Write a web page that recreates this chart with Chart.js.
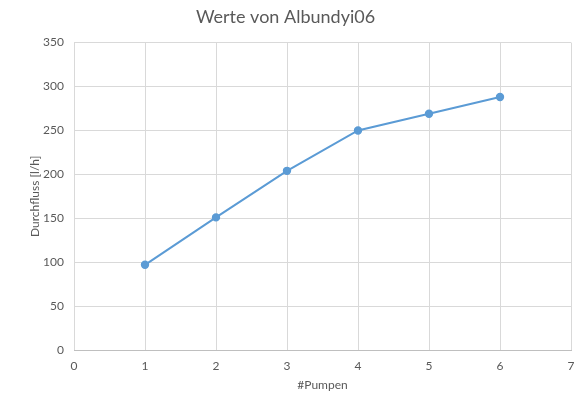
<!DOCTYPE html>
<html lang="de">
<head>
  <meta charset="UTF-8" />
  <title>Werte von Albundyi06</title>
  <script src="https://cdn.jsdelivr.net/npm/chart.js"></script>
  <style>
    body { margin: 0; background: #fff; }
    canvas { display: block; }
  </style>
</head>
<body>
  <canvas id="grafico" width="586" height="406"></canvas>
  <script>
    // dados
    const pumpen = [1, 2, 3, 4, 5, 6];
    const durchfluss = [97, 151, 204, 250, 269, 288];

    const cinza = '#595959';
    const fonte = 'Lato, "Open Sans", sans-serif';

    const ctx = document.getElementById('grafico').getContext('2d');
    new Chart(ctx, {
      type: 'scatter',
      data: {
        datasets: [{
          label: 'Durchfluss',
          data: pumpen.map((x, i) => ({ x: x, y: durchfluss[i] })),
          showLine: true,
          borderColor: '#5b9bd5',
          backgroundColor: '#5b9bd5',
          borderWidth: 2,
          pointRadius: 3.2,
          pointHoverRadius: 3.2
        }]
      },
      options: {
        responsive: false,
        animation: false,
        layout: { padding: { left: 0, right: 15, top: 0, bottom: 0 } },
        plugins: {
          legend: { display: false },
          tooltip: { enabled: false },
          title: {
            display: true,
            text: 'Werte von Albundyi06',
            color: cinza,
            font: { family: fonte, size: 18, weight: 'normal' },
            padding: { top: 6, bottom: 15 }
          }
        },
        scales: {
          x: {
            type: 'linear',
            min: 0,
            max: 7,
            ticks: { stepSize: 1, color: cinza, padding: 9, font: { family: fonte, size: 12 } },
            grid: { color: '#d9d9d9', drawTicks: false },
            border: { color: '#bfbfbf' },
            title: {
              display: true,
              text: '#Pumpen',
              color: cinza,
              font: { family: fonte, size: 12 },
              padding: { top: 4, bottom: 14 }
            },
            afterFit: scale => { scale.height = 56; }
          },
          y: {
            min: 0,
            max: 350,
            ticks: { stepSize: 50, color: cinza, padding: 10, font: { family: fonte, size: 12 } },
            grid: { color: '#d9d9d9', drawTicks: false },
            border: { display: false },
            title: {
              display: true,
              text: 'Durchfluss [l/h]',
              color: cinza,
              font: { family: fonte, size: 12 },
              padding: { top: 28, bottom: 4 }
            },
            afterFit: scale => { scale.width = 74; }
          }
        }
      }
    });
  </script>
</body>
</html>
